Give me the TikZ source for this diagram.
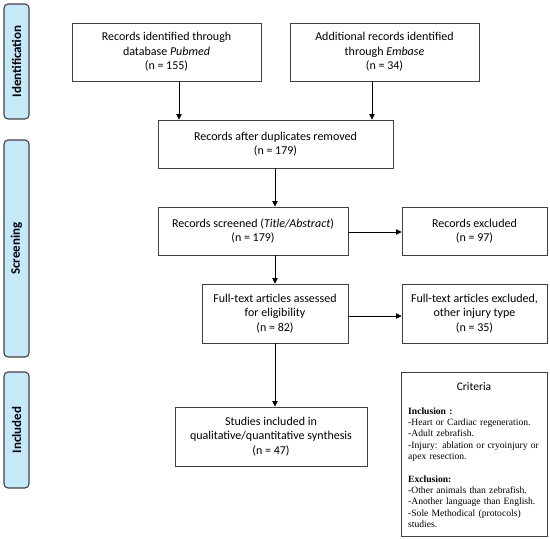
\documentclass[tikz,border=0pt]{standalone}
\usepackage{fontspec}
\setmainfont{Carlito}
\newfontfamily\critfont{Liberation Serif}
\usetikzlibrary{arrows.meta}
\definecolor{sidefill}{HTML}{C6E9FA}
\definecolor{boxline}{HTML}{404040}
\tikzset{
  flowbox/.style={draw=boxline, line width=0.9pt, fill=white, align=center, inner sep=2pt,
    font=\fontsize{12}{14.5}\selectfont},
  sidebar/.style={draw=boxline, line width=1.1pt, fill=sidefill, rounded corners=4pt,
    minimum width=25pt, inner sep=0pt},
  sidelabel/.style={rotate=90, font=\fontsize{13}{14}\selectfont\bfseries},
  arr/.style={-{Triangle[length=5.5pt,width=5.5pt]}, line width=0.7pt, black},
}
\begin{document}
\begin{tikzpicture}[x=1pt,y=1pt]
\useasboundingbox (0,0) rectangle (550,-539);
% side bars
\node[sidebar, minimum height=115pt] (sid) at (16.5,-61.5) {};
\node[sidelabel] (sidl) at (sid.center) {Identification};
\node[sidebar, minimum height=217pt] (sscr) at (16.5,-248.5) {};
\node[sidelabel] (sscrl) at (sscr.center) {Screening};
\node[sidebar, minimum height=116pt] (sinc) at (16.5,-430) {};
\node[sidelabel] (sincl) at (sinc.center) {Included};
% boxes
\node[flowbox, minimum width=189pt, minimum height=58pt] (b1) at (166.5,-52)
  {Records identified through\\database \textit{Pubmed}\\(n = 155)};
\node[flowbox, minimum width=189pt, minimum height=58pt] (b2) at (384.5,-52)
  {Additional records identified\\through \textit{Embase}\\(n = 34)};
\node[flowbox, minimum width=235pt, minimum height=48pt] (b3) at (275.5,-144)
  {Records after duplicates removed\\(n = 179)};
\node[flowbox, minimum width=190pt, minimum height=48pt] (b4) at (253,-231)
  {Records screened (\textit{Title/Abstract})\\(n = 179)};
\node[flowbox, minimum width=145pt, minimum height=48pt] (b5) at (474.5,-231)
  {Records excluded\\(n = 97)};
\node[flowbox, minimum width=146pt, minimum height=59pt] (b6) at (275,-313.5)
  {Full-text articles assessed\\for eligibility\\(n = 82)};
\node[flowbox, minimum width=145pt, minimum height=59pt] (b7) at (474.5,-313.5)
  {Full-text articles excluded,\\other injury type\\(n = 35)};
\node[flowbox, minimum width=192pt, minimum height=59pt] (b8) at (271,-436.5)
  {Studies included in\\qualitative/quantitative synthesis\\(n = 47)};
\node[draw=boxline, line width=0.9pt, minimum width=146pt, minimum height=164pt] (crit) at (474,-454) {};
\node[font=\fontsize{11.5}{14}\selectfont] (crittitle) at (474,-387) {Criteria};
\node[anchor=north west, inner sep=0pt, text width=138pt, align=left,
  font=\critfont\fontsize{9.6}{11.3}\selectfont] (critbody) at (408,-407.5)
  {\textbf{Inclusion :}\\
   -Heart or Cardiac regeneration.\\
   -Adult zebrafish.\\
   -Injury: ablation or cryoinjury or\\
   apex resection.\\[11.3pt]
   \textbf{Exclusion:}\\
   -Other animals than zebrafish.\\
   -Another language than English.\\
   -Sole Methodical (protocols)\\
   studies.};
% connector coordinates
\coordinate (c1) at (179,0);
\coordinate (c2) at (372,0);
\coordinate (cm) at (275,0);
\coordinate (h1) at (0,-232);
\coordinate (h2) at (0,-316);
% connectors
\draw[arr] (b1.south -| c1) -- (b3.north -| c1);
\draw[arr] (b2.south -| c2) -- (b3.north -| c2);
\draw[arr] (b3.south -| cm) -- (b4.north -| cm);
\draw[arr] (b4.south -| cm) -- (b6.north -| cm);
\draw[arr] (b6.south -| cm) -- (b8.north -| cm);
\draw[arr] (b4.east |- h1) -- (b5.west |- h1);
\draw[arr] (b6.east |- h2) -- (b7.west |- h2);
\end{tikzpicture}
\end{document}
